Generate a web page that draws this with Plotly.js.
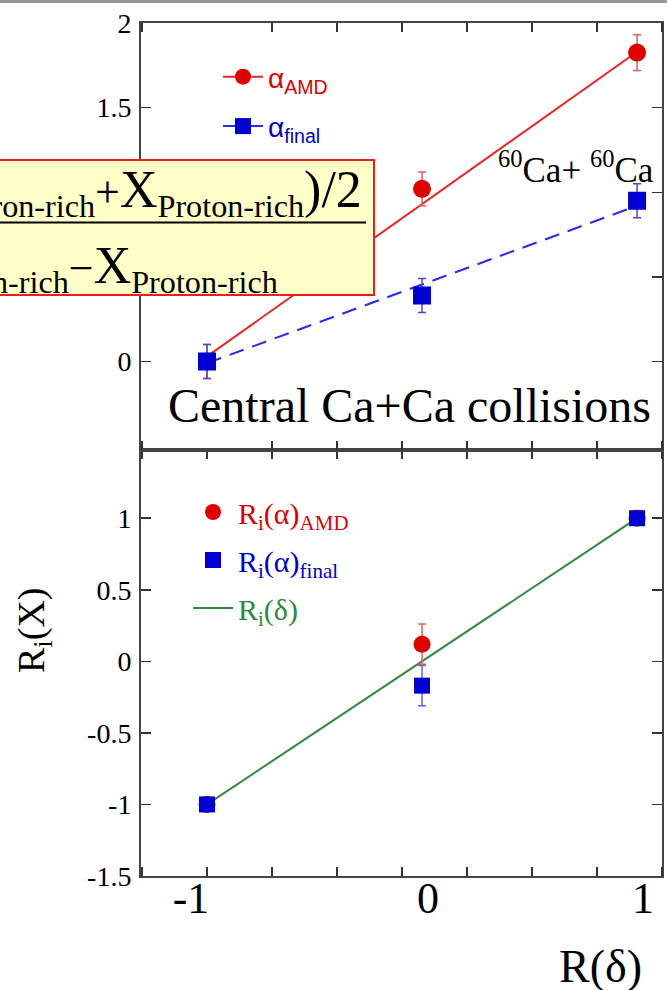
<!DOCTYPE html>
<html>
<head>
<meta charset="utf-8">
<script src="https://cdn.plot.ly/plotly-3.0.1.min.js"></script>
<style>
  html, body { margin: 0; padding: 0; background: #ffffff; }
  #chart { width: 667px; height: 990px; }
</style>
</head>
<body>
<div id="chart"></div>
<script>
// ---------- data ----------
const rDelta = [-1, 0, 1];                 // R(delta) of the three systems
const alphaAMD = [0, 1.02, 1.825];         // top panel, red circles
const alphaAMDErr = [0.1, 0.1, 0.105];
const alphaFinal = [0, 0.39, 0.95];        // top panel, blue squares
const alphaFinalErr = [0.1, 0.1, 0.1];
const fitX = [-1, 1];
const alphaAMDFit = [0.03, 1.83];          // red solid fit line
const alphaFinalFit = [-0.01, 0.92];       // blue dashed fit line
const riAMD = [-1, 0.12, 1];               // bottom panel, red circles
const riAMDErr = [0, 0.14, 0];
const riFinal = [-1, -0.17, 1];            // bottom panel, blue squares
const riFinalErr = [0, 0.14, 0];
const riDelta = [-1, 1];                   // green line R_i(delta)
const xTickVals = [-1, 0, 1];
const xTickText = ['-1\u00a0\u00a0\u00a0\u00a0', '0', '1'];
const yTopTicks = [0, 0.5, 1, 1.5, 2];
const yTopText = ['0', '0.5', '1', '1.5', '2'];
const yBotTicks = [-1.5, -1, -0.5, 0, 0.5, 1];
const yBotText = ['-1.5', '-1', '-0.5', '0', '0.5', '1'];

// ---------- geometry helpers (pixel -> paper) ----------
const W = 667, H = 990;
const M = {l: 141, r: 5, t: 23, b: 114};
const PW = W - M.l - M.r, PH = H - M.t - M.b;
const px = v => (v - M.l) / PW;
const py = v => (H - M.b - v) / PH;

const SERIF = 'Liberation Serif, Times New Roman, serif';
const SANS = 'Liberation Sans, Arial, sans-serif';
const RED = '#e00000', BLUE = '#0000d2', GREEN = '#2b8a3e';

const traces = [
  // top panel fit lines
  {x: fitX, y: alphaAMDFit, xaxis: 'x2', yaxis: 'y2', mode: 'lines',
   line: {color: '#ee2424', width: 2}, showlegend: false, hoverinfo: 'skip'},
  {x: fitX, y: alphaFinalFit, xaxis: 'x2', yaxis: 'y2', mode: 'lines',
   line: {color: '#2a2aee', width: 2, dash: '15px,9px'}, showlegend: false, hoverinfo: 'skip'},
  // top panel points
  {x: rDelta, y: alphaAMD, xaxis: 'x2', yaxis: 'y2', mode: 'markers',
   marker: {color: RED, size: 18, symbol: 'circle'},
   error_y: {type: 'data', array: alphaAMDErr, color: '#f05a5a', thickness: 1.5, width: 4},
   showlegend: false},
  {x: rDelta, y: alphaFinal, xaxis: 'x2', yaxis: 'y2', mode: 'markers',
   marker: {color: BLUE, size: 18, symbol: 'square'},
   error_y: {type: 'data', array: alphaFinalErr, color: '#5a46c0', thickness: 1.5, width: 4},
   showlegend: false},
  // top legend entries
  {x: [null], y: [null], xaxis: 'x2', yaxis: 'y2', mode: 'lines+markers',
   name: '<span style="color:' + RED + '">α<sub>AMD</sub></span>',
   line: {color: '#ee2424', width: 2}, marker: {color: RED, size: 18, symbol: 'circle'},
   legend: 'legend', legendgroup: 'a1'},
  {x: [null], y: [null], xaxis: 'x2', yaxis: 'y2', mode: 'lines+markers',
   name: '<span style="color:' + BLUE + '">α<sub>final</sub></span>',
   line: {color: '#2a2aee', width: 2}, marker: {color: BLUE, size: 18, symbol: 'square'},
   legend: 'legend', legendgroup: 'a2'},
  // bottom panel
  {x: fitX, y: riDelta, xaxis: 'x', yaxis: 'y', mode: 'lines',
   name: '<span style="color:' + GREEN + '">R<sub>i</sub>(δ)</span>',
   line: {color: GREEN, width: 2}, legend: 'legend2', legendgroup: 'b3', legendrank: 3},
  {x: rDelta, y: riAMD, xaxis: 'x', yaxis: 'y', mode: 'markers',
   name: '<span style="color:' + RED + '">R<sub>i</sub>(α)<sub>AMD</sub></span>',
   marker: {color: RED, size: 17, symbol: 'circle'},
   error_y: {type: 'data', array: riAMDErr, color: '#f05a5a', thickness: 1.5, width: 4},
   legend: 'legend2', legendgroup: 'b1', legendrank: 1},
  {x: rDelta, y: riFinal, xaxis: 'x', yaxis: 'y', mode: 'markers',
   name: '<span style="color:' + BLUE + '">R<sub>i</sub>(α)<sub>final</sub></span>',
   marker: {color: BLUE, size: 16, symbol: 'square'},
   error_y: {type: 'data', array: riFinalErr, color: '#5a6ae0', thickness: 1.5, width: 4},
   legend: 'legend2', legendgroup: 'b2', legendrank: 2}
];

function xAxis(extra) {
  return Object.assign({
    range: [-1.307, 1.116],
    showline: true, linecolor: '#444', linewidth: 2, mirror: 'ticks',
    ticks: '', showgrid: false, zeroline: false,
    minor: {ticks: 'inside', tick0: -1, dtick: 0.3023, ticklen: 9, tickwidth: 1.5, tickcolor: '#333', showgrid: false}
  }, extra);
}
function yAxis(extra) {
  return Object.assign({
    showline: true, linecolor: '#444', linewidth: 2, mirror: 'ticks',
    ticks: 'inside', ticklen: 10, tickwidth: 1.5, tickcolor: '#333',
    showgrid: false, zeroline: false, tickmode: 'array',
    tickfont: {family: SERIF, size: 28, color: '#000'}, ticklabelstandoff: 2
  }, extra);
}

const BIG = s => '<span style="font-size:52px">' + s + '</span>';
const formulaTop = BIG('(X') + '<sub>Neutron-rich</sub><span style="font-size:44px">+</span>' +
  BIG('X') + '<sub>Proton-rich</sub>' + BIG(')/2');
const formulaBottom = BIG('X') + '<sub>Neutron-rich</sub><span style="font-size:44px">−</span>' +
  BIG('X') + '<sub>Proton-rich</sub>';

const layout = {
  width: W, height: H, margin: M,
  paper_bgcolor: '#fff', plot_bgcolor: '#fff',
  showlegend: true,
  xaxis: xAxis({
    anchor: 'y', domain: [0, 1],
    tickmode: 'array', tickvals: xTickVals, ticktext: xTickText,
    tickfont: {family: SERIF, size: 44, color: '#000'}, ticklabelstandoff: -18, ticklabelshift: 6
  }),
  xaxis2: xAxis({anchor: 'y2', matches: 'x', showticklabels: false}),
  yaxis: yAxis({domain: [0, 0.5], range: [-1.5, 1.48], tickvals: yBotTicks, ticktext: yBotText}),
  yaxis2: yAxis({domain: [0.5, 1], range: [-0.52, 2], tickvals: yTopTicks, ticktext: yTopText}),
  legend: {
    x: px(218), y: py(52), xanchor: 'left', yanchor: 'top', itemwidth: 40,
    bgcolor: 'rgba(0,0,0,0)', borderwidth: 0, tracegroupgap: 10,
    font: {family: SANS, size: 28}
  },
  legend2: {
    x: px(188), y: py(486), xanchor: 'left', yanchor: 'top', itemwidth: 40,
    bgcolor: 'rgba(0,0,0,0)', borderwidth: 0, tracegroupgap: 6,
    font: {family: SERIF, size: 30}, traceorder: 'grouped'
  },
  shapes: [
    // grey rule along the very top of the picture
    {type: 'line', xref: 'paper', yref: 'paper', x0: px(-5), x1: px(672), y0: py(1.5), y1: py(1.5),
     line: {color: '#999', width: 3}, layer: 'above'},
    // formula box
    {type: 'rect', xref: 'paper', yref: 'paper', x0: px(-10), x1: px(374), y0: py(160), y1: py(295),
     fillcolor: '#ffffc8', line: {color: '#ee1c1c', width: 2}, layer: 'above'},
    // fraction bar
    {type: 'line', xref: 'paper', yref: 'paper', x0: px(-10), x1: px(366), y0: py(222.5), y1: py(222.5),
     line: {color: '#000', width: 2}, layer: 'above'}
  ],
  annotations: [
    {xref: 'paper', yref: 'paper', x: px(364), y: py(192), xanchor: 'right', yanchor: 'middle',
     text: formulaTop, showarrow: false, font: {family: SERIF, size: 46, color: '#000'}},
    {xref: 'paper', yref: 'paper', x: px(280), y: py(268), xanchor: 'right', yanchor: 'middle',
     text: formulaBottom, showarrow: false, font: {family: SERIF, size: 46, color: '#000'}},
    {xref: 'paper', yref: 'paper', x: px(576), y: py(167), xanchor: 'center', yanchor: 'middle',
     text: '<sup>60</sup>Ca+ <sup>60</sup>Ca', showarrow: false,
     font: {family: SERIF, size: 35, color: '#000'}},
    {xref: 'paper', yref: 'paper', x: px(409), y: py(405), xanchor: 'center', yanchor: 'middle',
     text: 'Central Ca+Ca collisions', showarrow: false,
     font: {family: SERIF, size: 48, color: '#000'}},
    {xref: 'paper', yref: 'paper', x: px(600), y: py(966), xanchor: 'center', yanchor: 'middle',
     text: 'R(δ)', showarrow: false,
     font: {family: SERIF, size: 46, color: '#000'}},
    {xref: 'paper', yref: 'paper', x: px(34), y: py(630), xanchor: 'center', yanchor: 'middle',
     text: 'R<sub>i</sub>(X)', showarrow: false, textangle: -90,
     font: {family: SERIF, size: 38, color: '#000'}}
  ]
};

Plotly.newPlot('chart', traces, layout, {staticPlot: true, displayModeBar: false});
</script>
</body>
</html>
